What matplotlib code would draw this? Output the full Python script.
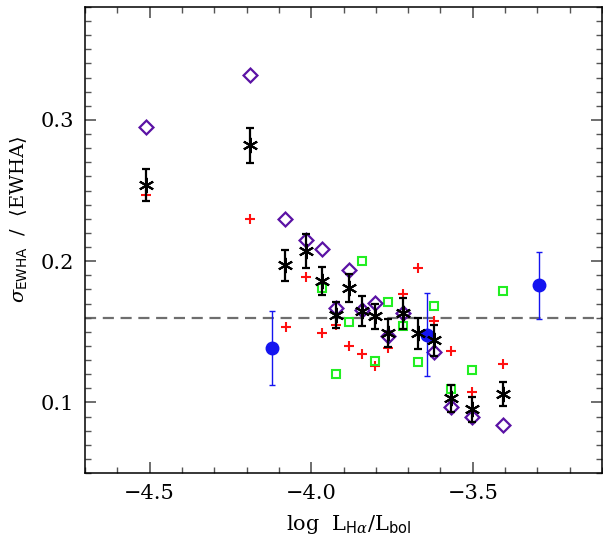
import matplotlib
matplotlib.use("Agg")
import matplotlib.pyplot as plt
from matplotlib.ticker import MultipleLocator

plt.rcParams['font.family'] = ['DejaVu Serif']
plt.rcParams['mathtext.fontset'] = 'dejavuserif'

# ── données ──────────────────────────────────────────────────────────────────
ast_x = [-4.51, -4.19, -4.08, -4.015, -3.965, -3.922, -3.883, -3.843,
         -3.803, -3.762, -3.715, -3.670, -3.621, -3.567, -3.502, -3.407]
ast_y = [0.254, 0.282, 0.197, 0.207, 0.186, 0.162, 0.181, 0.165,
         0.161, 0.149, 0.163, 0.149, 0.144, 0.103, 0.095, 0.106]
ast_err = [0.0115, 0.0125, 0.011, 0.012, 0.010, 0.009, 0.0097, 0.0106,
           0.009, 0.010, 0.011, 0.011, 0.011, 0.0095, 0.0088, 0.0086]

dia_x = [-4.51, -4.19, -4.08, -4.015, -3.965, -3.922, -3.883, -3.843,
         -3.803, -3.762, -3.715, -3.621, -3.567, -3.502, -3.407]
dia_y = [0.295, 0.332, 0.230, 0.215, 0.2085, 0.167, 0.194, 0.1655,
         0.1705, 0.147, 0.163, 0.136, 0.097, 0.090, 0.084]

plus_x = [-4.51, -4.19, -4.079, -4.015, -3.965, -3.922, -3.883, -3.843,
          -3.803, -3.762, -3.715, -3.670, -3.621, -3.567, -3.502, -3.407]
plus_y = [0.247, 0.230, 0.1535, 0.189, 0.1488, 0.155, 0.140, 0.134,
          0.1257, 0.1387, 0.177, 0.195, 0.1575, 0.1363, 0.1076, 0.1273]

sq_x = [-3.965, -3.924, -3.883, -3.843, -3.803, -3.762, -3.715, -3.670,
        -3.621, -3.567, -3.502, -3.407]
sq_y = [0.181, 0.1198, 0.157, 0.1999, 0.1295, 0.1709, 0.154, 0.1285,
        0.168, 0.1092, 0.1228, 0.1792]

blue_x = [-4.1225, -3.643, -3.296]
blue_y = [0.1386, 0.148, 0.1829]
blue_err = [0.026, 0.0295, 0.0236]

ref_level = 0.16

# ── figure ───────────────────────────────────────────────────────────────────
fig = plt.figure(figsize=(6.03, 5.43), dpi=100)
ax = fig.add_axes([85 / 603, 1 - 473 / 543, 517 / 603, 466 / 543])

ax.axhline(ref_level, color="#6e6e6e", lw=1.6, ls=(0, (5, 3)), zorder=1)

ax.plot(plus_x, plus_y, ls="none", marker="+", ms=7, mew=1.5,
        color="#ff1010", zorder=2)
ax.plot(sq_x, sq_y, ls="none", marker="s", ms=6.2, mew=1.5,
        mfc="none", mec="#22ee22", zorder=3)
ax.plot(dia_x, dia_y, ls="none", marker=(4, 0, 0), ms=10, mew=1.6,
        mfc="none", mec="#5a12a4", zorder=4)
ax.errorbar(blue_x, blue_y, yerr=blue_err, fmt="o", ms=9, color="#1414f0",
            ecolor="#1414f0", elinewidth=1.0, capsize=2.2, capthick=1.0,
            zorder=5)
ax.errorbar(ast_x, ast_y, yerr=ast_err, fmt="none", ecolor="black",
            elinewidth=1.6, capsize=3, capthick=1.6, zorder=6)
ax.plot(ast_x, ast_y, ls="none", marker=(6, 2, 0), ms=11, mew=1.5,
        color="black", zorder=7)

ax.set_xlim(-4.7, -3.1)
ax.set_ylim(0.05, 0.38)
ax.xaxis.set_major_locator(MultipleLocator(0.5))
ax.xaxis.set_minor_locator(MultipleLocator(0.1))
ax.yaxis.set_major_locator(MultipleLocator(0.1))
ax.yaxis.set_minor_locator(MultipleLocator(0.01))
ax.xaxis.set_major_formatter(plt.FuncFormatter(lambda v, p: f"{v:.1f}".replace("-", "\u2212")))
ax.yaxis.set_major_formatter(plt.FuncFormatter(lambda v, p: f"{v:.1f}"))

ax.tick_params(which="both", direction="in", top=True, right=True,
               color="#555555", labelsize=15, pad=8)
ax.tick_params(which="major", length=8, width=1.2)
ax.tick_params(which="minor", length=4.5, width=1.0)
for s in ax.spines.values():
    s.set_linewidth(1.1)

ax.set_xlabel(r"log  L$_{\mathsf{H}\alpha}$/L$_{\mathsf{bol}}$", fontsize=15)
ax.set_ylabel(r"$\sigma_{\mathsf{EWHA}}$  /  $\langle$EWHA$\rangle$", fontsize=14)
ax.yaxis.set_label_coords(-0.108, 0.545)
ax.xaxis.set_label_coords(0.51, -0.085)

fig.savefig("out.png", dpi=100)
